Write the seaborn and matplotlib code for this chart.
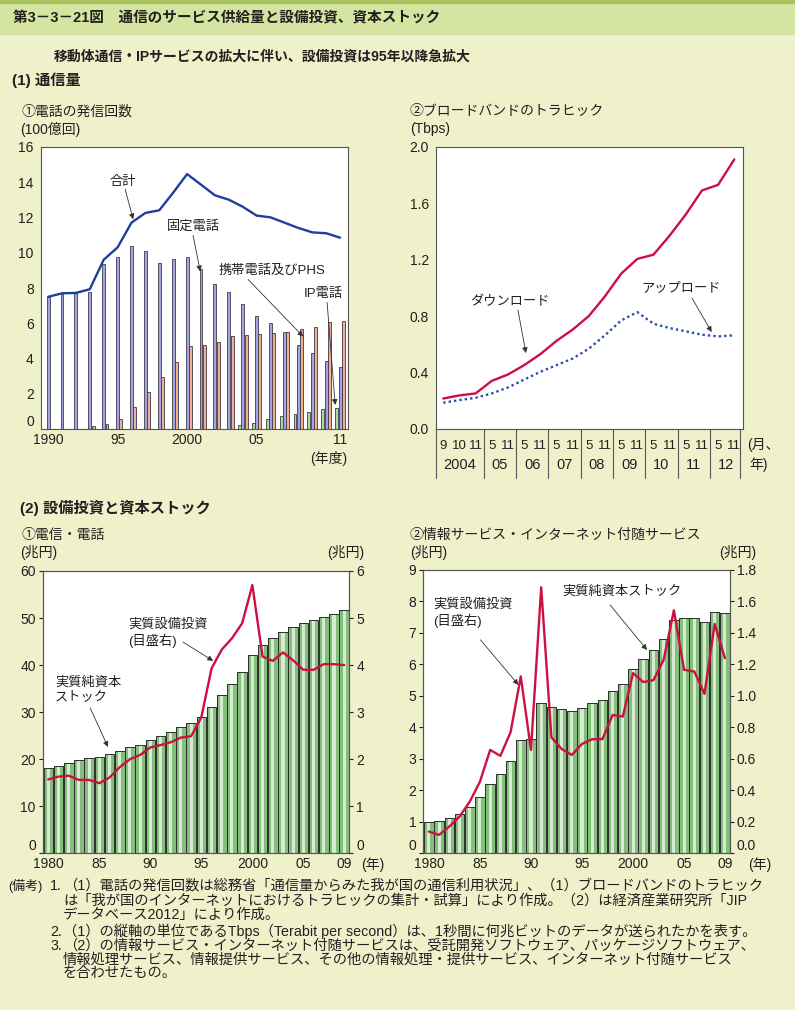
import numpy as np
import pandas as pd
import matplotlib
matplotlib.use("Agg")
import matplotlib.pyplot as plt
import matplotlib.transforms as mtransforms
from matplotlib.patches import Rectangle
import seaborn as sns

sns.set_style("white")
plt.rcParams["font.family"] = ["Liberation Sans", "Noto Sans CJK JP", "DejaVu Sans"]
plt.rcParams["text.color"] = "#231f20"
plt.rcParams["xtick.color"] = "#231f20"
plt.rcParams["ytick.color"] = "#231f20"

# -----------------------------------------------------------
# DATA
# -----------------------------------------------------------
call_years = list(range(1990, 2012))
call_fixed = [7.5, 7.65, 7.7, 7.75, 9.35, 9.75, 10.35, 10.1, 9.4, 9.65, 9.75,
              9.05, 8.25, 7.75, 7.08, 6.4, 6.0, 5.5, 4.8, 4.32, 3.85, 3.5]
call_mobile = [np.nan, np.nan, np.nan, 0.2, 0.28, 0.57, 1.28, 2.13, 2.98, 3.81, 4.74,
               4.77, 4.96, 5.26, 5.34, 5.4, 5.45, 5.49, 5.7, 5.81, 6.1, 6.11]
call_ip = [np.nan] * 14 + [0.26, 0.34, 0.57, 0.74, 0.85, 1.0, 1.13, 1.21]
call_total = [7.5, 7.7, 7.72, 7.93, 9.6, 10.3, 11.7, 12.25, 12.4, 13.4, 14.45,
              13.85, 13.25, 13.0, 12.6, 12.1, 12.0, 11.7, 11.4, 11.15, 11.1, 10.85]

bb_month = ["9", "10", "11"] + ["5", "11"] * 8
bb_year = ["2004", "05", "06", "07", "08", "09", "10", "11", "12"]
bb_down = [0.216, 0.238, 0.252, 0.341, 0.386, 0.452, 0.53, 0.624, 0.704, 0.8,
           0.94, 1.1, 1.205, 1.235, 1.37, 1.52, 1.69, 1.73, 1.91]
bb_up = [0.186, 0.205, 0.221, 0.252, 0.294, 0.35, 0.405, 0.452, 0.499, 0.569,
         0.664, 0.769, 0.828, 0.746, 0.715, 0.692, 0.668, 0.656, 0.664]

inv_years = list(range(1980, 2010))
tel_stock = [18.05, 18.6, 19.25, 19.75, 20.2, 20.55, 21.0, 21.7, 22.5, 23.1,
             24.0, 25.0, 25.85, 26.85, 27.75, 29.0, 31.15, 33.55, 35.95, 38.6,
             42.06, 44.26, 45.67, 46.95, 48.08, 49.0, 49.65, 50.28, 50.92, 51.63]
tel_invest = [1.57, 1.63, 1.65, 1.56, 1.56, 1.49, 1.61, 1.83, 2.0, 2.09,
              2.25, 2.30, 2.36, 2.46, 2.49, 2.89, 3.93, 4.33, 4.57, 4.89,
              5.70, 4.18, 4.09, 4.27, 4.10, 3.90, 3.90, 4.02, 4.02, 4.00]
info_stock = [0.985, 1.04, 1.11, 1.24, 1.46, 1.78, 2.21, 2.53, 2.94, 3.59,
              3.62, 4.76, 4.66, 4.58, 4.53, 4.63, 4.76, 4.88, 5.17, 5.39,
              5.85, 6.17, 6.46, 6.8, 7.4, 7.46, 7.49, 7.34, 7.65, 7.64]
info_invest = [0.138, 0.117, 0.17, 0.233, 0.328, 0.455, 0.657, 0.619, 0.769, 1.124,
               0.657, 1.69, 0.737, 0.663, 0.625, 0.695, 0.725, 0.725, 0.879, 0.869,
               1.145, 1.088, 1.10, 1.23, 1.544, 1.166, 1.155, 1.013, 1.457, 1.24]

# -----------------------------------------------------------
# STYLE
# -----------------------------------------------------------
W, H = 795, 1010
BG = "#eff1cb"
RED = "#cc1042"
NAVY = "#1f3f9c"
SPINE = "#555555"


def fx(px):
    return px / W


def fy(py):
    return 1 - py / H


def style_axes(ax):
    for s in ax.spines.values():
        s.set_color(SPINE)
        s.set_linewidth(0.8)
    ax.set_xlabel("")
    ax.set_ylabel("")
    ax.tick_params(axis="y", length=3, width=0.8, direction="out", labelsize=10, pad=2)
    ax.tick_params(axis="x", length=0, labelsize=10, pad=3)


def lift_zero(ax):
    # the reference nudges the bottom "0" label up off the x labels
    ax.get_yticklabels()[0].set_va("bottom")


arrow_kw = dict(arrowstyle="-|>", color="#333333", lw=0.6, mutation_scale=8,
                shrinkA=0, shrinkB=0)


def note(ax, text, xy, tail, head, ha="center", fs=9.5):
    ax.text(xy[0], xy[1], text, ha=ha, va="center", fontsize=fs, linespacing=1.2, zorder=6)
    ax.annotate("", xy=head, xytext=tail, arrowprops=arrow_kw, zorder=6)


fig = plt.figure(figsize=(W / 100, H / 100), dpi=100, facecolor=BG)

# header band
fig.patches.append(Rectangle((0, fy(34)), 1, 34 / H, transform=fig.transFigure,
                             color="#d6e4a2", zorder=0))
fig.patches.append(Rectangle((0, fy(3)), 1, 3 / H, transform=fig.transFigure,
                             color="#a9c25e", zorder=0))
fig.text(fx(13), fy(18), "第3－3－21図　通信のサービス供給量と設備投資、資本ストック",
         fontsize=10.5, fontweight="bold", va="center")
fig.text(fx(262), fy(57), "移動体通信・IPサービスの拡大に伴い、設備投資は95年以降急拡大",
         fontsize=10, fontweight="bold", va="center", ha="center")
fig.text(fx(12), fy(80), "(1) 通信量", fontsize=11, fontweight="bold", va="center")
fig.text(fx(20), fy(508), "(2) 設備投資と資本ストック", fontsize=11, fontweight="bold", va="center")

# -----------------------------------------------------------
# (1)-1 CALLS
# -----------------------------------------------------------
ax1 = fig.add_axes([fx(40.7), fy(429.3), 307 / W, 282.6 / H])
calls = pd.DataFrame({"year": call_years, "固定電話": call_fixed,
                      "携帯電話及びPHS": call_mobile, "IP電話": call_ip})
calls_long = calls.melt(id_vars="year", var_name="kind", value_name="value").dropna()
sns.barplot(data=calls_long, x="year", y="value", hue="kind", order=call_years,
            hue_order=["IP電話", "固定電話", "携帯電話及びPHS"],
            palette={"IP電話": "#a8dc9e", "固定電話": "#a3a3e6", "携帯電話及びPHS": "#f2ad93"},
            width=0.72, gap=0.12, saturation=1, edgecolor="#3c3c48", linewidth=0.6,
            errorbar=None, legend=False, ax=ax1)
sns.lineplot(x=np.arange(len(call_years)), y=call_total, color=NAVY, lw=1.7, ax=ax1)
ax1.set_xlim(-0.53, 21.55)
ax1.set_ylim(0, 16)
ax1.set_yticks(range(0, 17, 2))
ax1.set_xticks([0, 5, 10, 15, 21])
ax1.set_xticklabels(["1990", "95", "2000", "05", "11"])
ax1.set_xticks(np.arange(0.5, 21, 1), minor=True)
style_axes(ax1)
lift_zero(ax1)
ax1.tick_params(axis="x", which="minor", direction="in", length=3, width=2.5, color="#c8c8c8")
ax1.text(1.0, -0.105, "(年度)", transform=ax1.transAxes, ha="right", va="center", fontsize=10)
fig.text(fx(22), fy(112), "①電話の発信回数", fontsize=10, va="center")
fig.text(fx(20), fy(129), "(100億回)", fontsize=10, va="center")

note(ax1, "合計", (5.4, 14.0), (5.54, 13.6), (6.12, 11.89))
note(ax1, "固定電話", (10.43, 11.5), (10.43, 10.98), (10.94, 8.94))
note(ax1, "携帯電話及びPHS", (16.1, 9.0), (14.39, 8.48), (18.35, 5.25))
note(ax1, "IP電話", (19.78, 7.69), (20.07, 7.18), (20.65, 1.38))

# -----------------------------------------------------------
# (1)-2 BROADBAND TRAFFIC
# -----------------------------------------------------------
ax2 = fig.add_axes([fx(436), fy(429), 306.7 / W, 282.3 / H])
pos = np.arange(len(bb_down))
sns.lineplot(x=pos, y=bb_down, color=RED, lw=1.7, ax=ax2)
sns.lineplot(x=pos, y=bb_up, color="#2a4db0", lw=1.7, linestyle=(0, (1, 1.3)), ax=ax2)
ax2.set_xlim(-0.45, 18.52)
ax2.set_ylim(0, 2.0)
yt = np.arange(0, 2.01, 0.4)
ax2.set_yticks(yt)
ax2.set_yticklabels([f"{v:.1f}" for v in yt])
ax2.set_xticks(pos)
ax2.set_xticklabels(bb_month)
style_axes(ax2)
ax2.tick_params(axis="x", pad=8, labelsize=9.5)
blend2 = mtransforms.blended_transform_factory(ax2.transData, ax2.transAxes)
year_centers = [1] + [3.5 + 2 * i for i in range(8)]
for xc, lab in zip(year_centers, bb_year):
    ax2.text(xc, -0.128, lab, transform=blend2, ha="center", va="center", fontsize=10.5)
for xs in [-0.45] + [2.5 + 2 * i for i in range(8)] + [18.38]:
    ax2.plot([xs, xs], [0, -0.175], transform=blend2, clip_on=False, color=SPINE, lw=0.8)
fig.text(fx(747), fy(445), "(月、", fontsize=10, va="center")
fig.text(fx(749), fy(465), "年)", fontsize=10, va="center")
fig.text(fx(410), fy(111), "②ブロードバンドのトラヒック", fontsize=10, va="center")
fig.text(fx(410), fy(129), "(Tbps)", fontsize=10, va="center")

note(ax2, "ダウンロード", (4.12, 0.90), (4.62, 0.843), (5.11, 0.538))
note(ax2, "アップロード", (14.7, 1.0), (15.38, 0.928), (16.6, 0.687))


# -----------------------------------------------------------
# (2) INVESTMENT & CAPITAL STOCK
# -----------------------------------------------------------
def stock_panel(ax, stock, invest, ymax, rmax):
    sns.barplot(x=inv_years, y=stock, color="#84bd7c", width=0.94, saturation=1,
                linewidth=0, errorbar=None, ax=ax)
    sns.barplot(x=inv_years, y=stock, color="#d4ecd0", width=0.3, saturation=1,
                linewidth=0, errorbar=None, ax=ax)
    sns.barplot(x=inv_years, y=stock, fill=False, color="#2e2e2e", width=0.94,
                linewidth=0.7, errorbar=None, ax=ax)
    axr = ax.twinx()
    sns.lineplot(x=np.arange(len(inv_years)), y=invest, color=RED, lw=1.7, ax=axr)
    ax.set_ylim(0, ymax)
    axr.set_ylim(0, rmax)
    ax.set_xlim(-0.55, 29.5)
    ax.set_xticks([0, 5, 10, 15, 20, 25, 29])
    ax.set_xticklabels(["1980", "85", "90", "95", "2000", "05", "09"])
    style_axes(ax)
    style_axes(axr)
    return axr


ax3 = fig.add_axes([fx(42.7), fy(853.3), 306.6 / W, 282.3 / H])
ax3r = stock_panel(ax3, tel_stock, tel_invest, 60, 6)
ax3.set_yticks(range(0, 61, 10))
ax3r.set_yticks(range(0, 7))
ax3r.set_yticklabels([str(v) for v in range(0, 7)])
lift_zero(ax3)
lift_zero(ax3r)
ax3.text(1.04, -0.04, "(年)", transform=ax3.transAxes, ha="left", va="center", fontsize=10)
fig.text(fx(22), fy(535), "①電信・電話", fontsize=10, va="center")
fig.text(fx(20), fy(552), "(兆円)", fontsize=10, va="center")
fig.text(fx(327), fy(552), "(兆円)", fontsize=10, va="center")
ax3.text(7.82, 50.0, "実質設備投資\n(目盛右)", ha="left", va="top",
         fontsize=9.5, linespacing=1.25, zorder=6)
ax3.annotate("", xy=(16.15, 40.9), xytext=(13.2, 44.9), arrowprops=arrow_kw, zorder=6)
ax3.text(0.66, 37.6, "実質純資本\nストック", ha="left", va="top", fontsize=9.5,
         linespacing=1.25, zorder=6)
ax3.annotate("", xy=(5.85, 22.6), xytext=(4.1, 30.9), arrowprops=arrow_kw, zorder=6)

ax4 = fig.add_axes([fx(423.3), fy(853.3), 306.7 / W, 283.3 / H])
ax4r = stock_panel(ax4, info_stock, info_invest, 9, 1.8)
ax4.set_yticks(range(0, 10))
rt4 = np.arange(0, 1.81, 0.2)
ax4r.set_yticks(rt4)
ax4r.set_yticklabels([f"{v:.1f}" for v in rt4])
lift_zero(ax4)
lift_zero(ax4r)
ax4.text(1.058, -0.04, "(年)", transform=ax4.transAxes, ha="left", va="center", fontsize=10)
fig.text(fx(410), fy(535), "②情報サービス・インターネット付随サービス", fontsize=10, va="center")
fig.text(fx(410), fy(552), "(兆円)", fontsize=10, va="center")
fig.text(fx(719), fy(552), "(兆円)", fontsize=10, va="center")
ax4.text(0.46, 8.1, "実質設備投資\n(目盛右)", ha="left", va="top", fontsize=9.5,
         linespacing=1.25, zorder=6)
ax4.annotate("", xy=(8.77, 5.35), xytext=(5.05, 6.78), arrowprops=arrow_kw, zorder=6)
ax4.text(18.93, 8.33, "実質純資本ストック", ha="center", va="center", fontsize=9.5, zorder=6)
ax4.annotate("", xy=(21.37, 6.46), xytext=(17.75, 7.89), arrowprops=arrow_kw, zorder=6)

# -----------------------------------------------------------
# NOTES
# -----------------------------------------------------------
notes = [
    (8, 886, "(備考)", 9.3),
    (50, 886, "1.", 10.3),
    (63, 886, "（1）電話の発信回数は総務省「通信量からみた我が国の通信利用状況」、（1）ブロードバンドのトラヒック", 10.3),
    (63, 900.5, "は「我が国のインターネットにおけるトラヒックの集計・試算」により作成。（2）は経済産業研究所「JIP", 10.3),
    (63, 914.5, "データベース2012」により作成。", 10.3),
    (50, 931.5, "2.", 10.3),
    (63, 931.5, "（1）の縦軸の単位であるTbps（Terabit per second）は、1秒間に何兆ビットのデータが送られたかを表す。", 10.3),
    (50, 945.5, "3.", 10.3),
    (63, 945.5, "（2）の情報サービス・インターネット付随サービスは、受託開発ソフトウェア、パッケージソフトウェア、", 10.3),
    (63, 959.5, "情報処理サービス、情報提供サービス、その他の情報処理・提供サービス、インターネット付随サービス", 10.3),
    (63, 973.5, "を合わせたもの。", 10.3),
]
for x, y, t, fs in notes:
    fig.text(fx(x), fy(y), t, fontsize=fs, va="center")

fig.savefig("out.png", dpi=100, facecolor=BG)
